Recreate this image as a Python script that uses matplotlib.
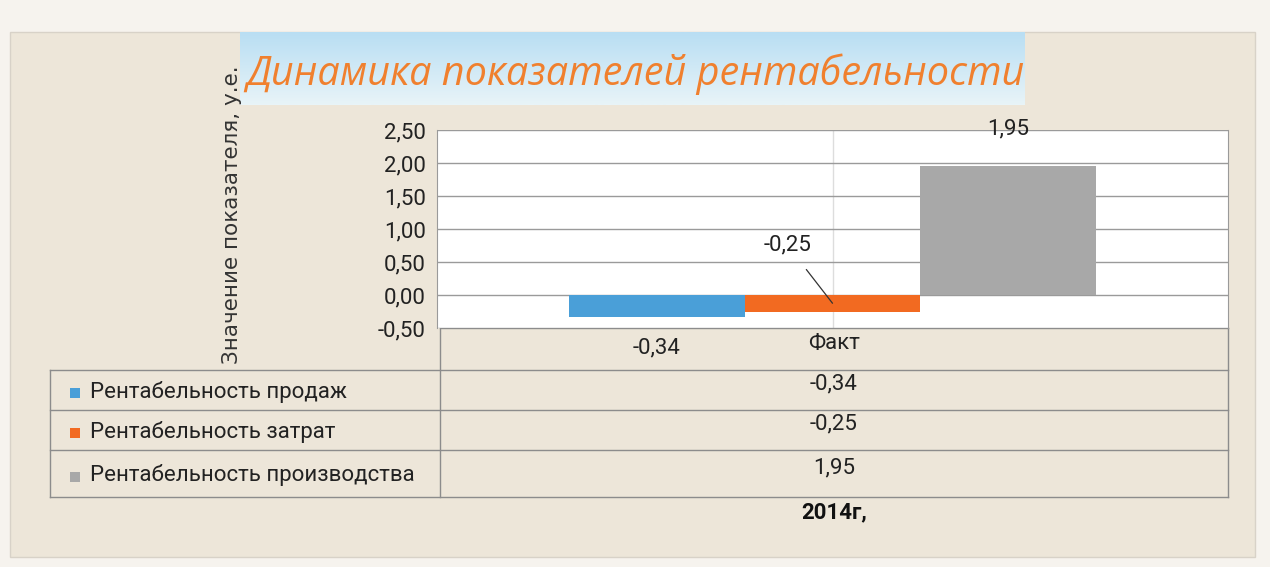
import numpy as np
import matplotlib.pyplot as plt
from matplotlib.patches import Rectangle
from matplotlib.colors import LinearSegmentedColormap
import matplotlib.font_manager as fm

# ---- data ----
series = ["Рентабельность продаж", "Рентабельность затрат", "Рентабельность производства"]
values = [-0.34, -0.25, 1.95]
value_labels = ["-0,34", "-0,25", "1,95"]
category = "Факт"
year_label = "2014г,"
yticks = [-0.5, 0.0, 0.5, 1.0, 1.5, 2.0, 2.5]
ytick_labels = ["-0,50", "0,00", "0,50", "1,00", "1,50", "2,00", "2,50"]
title = "Динамика показателей рентабельности"
ylabel = "Значение показателя, у.е."
colors = ["#4a9fd8", "#f26a21", "#a8a8a8"]

names = {f.name for f in fm.fontManager.ttflist}
narrow = [f for f in ["Liberation Sans Narrow", "Roboto", "DejaVu Sans"] if f in names] or ["DejaVu Sans"]

W, H = 1270, 567
fig = plt.figure(figsize=(W / 100, H / 100), dpi=100)
fig.patch.set_facecolor("#f6f3ee")

# background / overlay axes in pixel coords
bg = fig.add_axes([0, 0, 1, 1], zorder=0)
bg.set_xlim(0, W)
bg.set_ylim(H, 0)
bg.axis("off")
bg.add_patch(Rectangle((10, 32), 1245, 525, facecolor="#ede6d9", edgecolor="#d8d2c8", lw=1))

# title box with light-blue gradient
grad = np.linspace(0, 1, 50).reshape(-1, 1)
cm = LinearSegmentedColormap.from_list("g", ["#b9def3", "#e8f4f8"])
bg.imshow(grad, cmap=cm, extent=(240, 1025, 105, 32), aspect="auto", zorder=1)
bg.text(246, 74, title, fontsize=28.5, style="italic", color="#f0802e",
        family=["Open Sans", "DejaVu Sans"], va="center", ha="left", zorder=2)

# y label
bg.text(232, 215, ylabel, rotation=90, fontsize=15.5, color="#333333",
        family=["DejaVu Sans"], va="center", ha="center")

# main plot axes
x0, x1, ytop, ybot = 437, 1228, 130, 328
ax = fig.add_axes([x0 / W, 1 - ybot / H, (x1 - x0) / W, (ybot - ytop) / H], zorder=1)
ax.set_facecolor("white")
ax.set_xlim(-0.5, 0.5)
ax.set_ylim(-0.5, 2.5)
ax.set_yticks(yticks)
ax.set_yticklabels(ytick_labels, family=narrow, fontsize=16, color="#222222")
ax.set_xticks([])
ax.tick_params(axis="y", length=0, pad=8)
ax.grid(axis="y", color="#9a9a9a", lw=1)
ax.set_axisbelow(True)
ax.axvline(0, color="#dddddd", lw=1, zorder=0)
for s in ["top", "bottom"]:
    ax.spines[s].set_visible(False)
ax.spines["left"].set_color("#9a9a9a")
ax.spines["right"].set_color("#9a9a9a")

bw = 0.222
xs = [(i - 1) * bw for i in range(3)]
bars = ax.bar(xs, values, width=bw, color=colors, zorder=2)

ax.annotate(value_labels[0], xy=(xs[0], values[0]), xytext=(0, -30), textcoords="offset pixels",
            ha="center", va="center", fontsize=16, family=narrow, color="#222222",
            annotation_clip=False)
ax.annotate(value_labels[1], xy=(xs[1], values[1] / 2), xytext=(-45, 58), textcoords="offset pixels",
            ha="center", va="center", fontsize=16, family=narrow, color="#222222",
            arrowprops=dict(arrowstyle="-", color="#333333", lw=0.9, shrinkA=10, shrinkB=0))
ax.annotate(value_labels[2], xy=(xs[2], values[2]), xytext=(0, 37), textcoords="offset pixels",
            ha="center", va="center", fontsize=16, family=narrow, color="#222222",
            annotation_clip=False)

# data table below plot
lc = "#8c8c8c"
xl, xm, xr = 50, 440, 1228
rows = [370, 410, 450, 497]
bg.plot([xm, xm], [ybot, rows[-1]], color=lc, lw=1)
bg.plot([xr, xr], [ybot, rows[-1]], color=lc, lw=1)
bg.plot([xm, xr], [ybot, ybot], color=lc, lw=1)
bg.plot([xl, xl], [rows[0], rows[-1]], color=lc, lw=1)
for y in rows:
    bg.plot([xl, xr], [y, y], color=lc, lw=1)
bg.text((xm + xr) / 2, 343, category, fontsize=16, family=narrow, ha="center", va="center", color="#222222")
for i in range(3):
    yc = (rows[i] + rows[i + 1]) / 2
    bg.add_patch(Rectangle((70, yc - 2), 10, 10, facecolor=colors[i], edgecolor="none"))
    bg.text(90, yc + 2, series[i], fontsize=16, family=narrow, ha="left", va="center", color="#222222")
    bg.text((xm + xr) / 2, yc - 6, value_labels[i], fontsize=16, family=narrow, ha="center",
            va="center", color="#222222")
bg.text((xm + xr) / 2, 512, year_label, fontsize=16, family=narrow, weight="bold",
        ha="center", va="center", color="#111111")

fig.savefig("out.png", dpi=100, facecolor=fig.get_facecolor())
